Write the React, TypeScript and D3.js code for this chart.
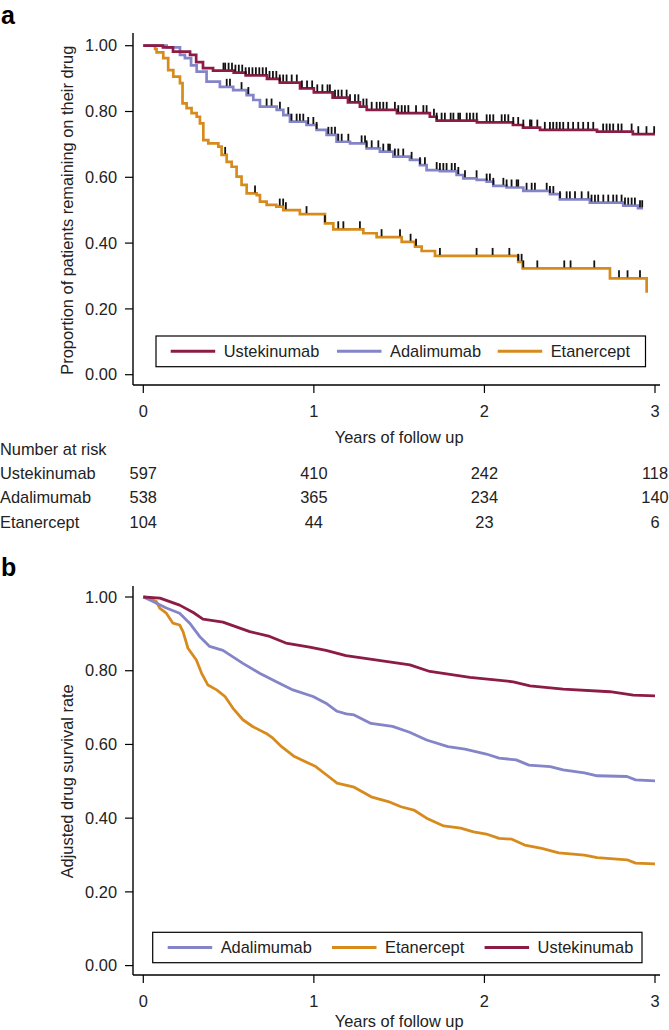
import React from "react";
import * as d3 from "d3";

// ---------- data ----------
const yearTicks = [0, 1, 2, 3];
const propTicks = [0, 0.2, 0.4, 0.6, 0.8, 1.0];
const drugNames = ["Ustekinumab", "Adalimumab", "Etanercept"];
const riskUstekinumab = [597, 410, 242, 118];
const riskAdalimumab = [538, 365, 234, 140];
const riskEtanercept = [104, 44, 23, 6];

// panel a: Kaplan–Meier steps [years, proportion]
const kmUstekinumab: [number, number][] = [
  [0, 1.0], [0.115, 0.995], [0.174, 0.982], [0.274, 0.972], [0.31, 0.95], [0.35, 0.932],
  [0.409, 0.924], [0.53, 0.918], [0.6, 0.91], [0.725, 0.899], [0.8, 0.888], [0.919, 0.87],
  [1.0, 0.858], [1.11, 0.842], [1.2, 0.828], [1.27, 0.815], [1.31, 0.805], [1.487, 0.795],
  [1.68, 0.784], [1.72, 0.772], [1.956, 0.767], [2.167, 0.759], [2.226, 0.751], [2.326, 0.744],
  [2.66, 0.739], [2.87, 0.731],
];
const kmAdalimumab: [number, number][] = [
  [0, 1.0], [0.137, 0.995], [0.215, 0.972], [0.244, 0.962], [0.28, 0.94], [0.313, 0.921],
  [0.371, 0.891], [0.449, 0.875], [0.527, 0.865], [0.606, 0.85], [0.645, 0.835], [0.684, 0.815],
  [0.782, 0.805], [0.821, 0.789], [0.86, 0.769], [0.957, 0.759], [1.016, 0.744], [1.075, 0.729],
  [1.133, 0.708], [1.212, 0.703], [1.309, 0.688], [1.387, 0.678], [1.466, 0.663], [1.563, 0.653],
  [1.622, 0.637], [1.661, 0.622], [1.739, 0.619], [1.837, 0.607], [1.876, 0.597], [1.955, 0.592],
  [2.013, 0.587], [2.052, 0.574], [2.13, 0.569], [2.228, 0.559], [2.384, 0.549], [2.442, 0.533],
  [2.618, 0.523], [2.814, 0.514], [2.9, 0.506],
];
const kmEtanercept: [number, number][] = [
  [0, 1.0], [0.069, 0.99], [0.078, 0.98], [0.117, 0.962], [0.146, 0.926], [0.176, 0.906],
  [0.215, 0.886], [0.23, 0.825], [0.254, 0.81], [0.283, 0.795], [0.313, 0.784], [0.332, 0.764],
  [0.352, 0.713], [0.381, 0.703], [0.44, 0.693], [0.459, 0.668], [0.489, 0.647], [0.518, 0.632],
  [0.547, 0.602], [0.576, 0.577], [0.606, 0.551], [0.665, 0.546], [0.684, 0.526], [0.723, 0.516],
  [0.78, 0.511], [0.821, 0.5], [0.918, 0.488], [1.065, 0.46], [1.114, 0.442], [1.29, 0.43],
  [1.368, 0.418], [1.515, 0.404], [1.593, 0.389], [1.632, 0.376], [1.71, 0.361], [2.198, 0.343],
  [2.224, 0.323], [2.736, 0.293], [2.951, 0.249],
];
const kmEndUstekinumab = 3.0;
const kmEndAdalimumab = 2.93;
const kmEndEtanercept = 2.951;

// censoring times (years)
const censorUstekinumab = [
  0.47, 0.48, 0.5, 0.52, 0.54, 0.56, 0.58, 0.6, 0.62, 0.64, 0.66, 0.68, 0.7, 0.72, 0.74, 0.76,
  0.78, 0.8, 0.82, 0.84, 0.87, 0.9, 0.93, 0.96, 0.99, 1.02, 1.05, 1.08, 1.094, 1.124, 1.143,
  1.163, 1.192, 1.212, 1.241, 1.261, 1.29, 1.309, 1.339, 1.368, 1.387, 1.407, 1.427, 1.475,
  1.495, 1.515, 1.534, 1.554, 1.599, 1.642, 1.661, 1.704, 1.72, 1.749, 1.768, 1.802, 1.818,
  1.847, 1.857, 1.896, 1.915, 1.935, 1.955, 2.013, 2.032, 2.052, 2.101, 2.12, 2.14, 2.169,
  2.198, 2.228, 2.267, 2.276, 2.31, 2.354, 2.384, 2.403, 2.423, 2.442, 2.462, 2.491, 2.52,
  2.55, 2.579, 2.608, 2.638, 2.696, 2.716, 2.735, 2.755, 2.784, 2.804, 2.863, 2.902, 2.95, 2.995,
];
const censorAdalimumab = [
  0.489, 0.508, 0.576, 0.616, 0.723, 0.752, 0.801, 0.85, 0.869, 0.899, 0.918, 0.938, 0.967,
  0.997, 1.016, 1.085, 1.104, 1.124, 1.143, 1.163, 1.202, 1.28, 1.3, 1.309, 1.339, 1.378,
  1.407, 1.436, 1.446, 1.475, 1.495, 1.524, 1.573, 1.622, 1.651, 1.72, 1.739, 1.759, 1.778,
  1.808, 1.827, 1.847, 1.886, 1.954, 2.013, 2.032, 2.052, 2.111, 2.13, 2.159, 2.189, 2.198,
  2.247, 2.277, 2.296, 2.365, 2.384, 2.404, 2.443, 2.482, 2.501, 2.531, 2.57, 2.609, 2.628,
  2.648, 2.667, 2.697, 2.726, 2.755, 2.775, 2.804, 2.824, 2.843, 2.863, 2.882, 2.912, 2.925,
];
const censorEtanercept = [
  0.48, 0.655, 0.8, 0.82, 0.836, 0.957, 1.065, 1.143, 1.173, 1.27, 1.397, 1.505, 1.567, 1.599,
  1.739, 1.954, 2.048, 2.146, 2.198, 2.218, 2.228, 2.31, 2.468, 2.505, 2.644, 2.789, 2.839, 2.912,
];

// panel b: adjusted survival [years, rate]
const adjAdalimumab: [number, number][] = [
  [0, 1.0], [0.057, 0.988], [0.135, 0.97], [0.213, 0.956], [0.272, 0.929], [0.33, 0.893],
  [0.389, 0.866], [0.467, 0.855], [0.584, 0.82], [0.682, 0.793], [0.78, 0.77], [0.877, 0.748],
  [0.995, 0.73], [1.071, 0.712], [1.136, 0.69], [1.19, 0.683], [1.236, 0.68], [1.335, 0.657],
  [1.461, 0.649], [1.561, 0.633], [1.661, 0.612], [1.786, 0.594], [1.886, 0.587], [2.011, 0.574],
  [2.086, 0.563], [2.186, 0.558], [2.261, 0.544], [2.386, 0.54], [2.461, 0.531], [2.586, 0.523],
  [2.661, 0.515], [2.836, 0.513], [2.886, 0.504], [3.0, 0.501],
];
const adjEtanercept: [number, number][] = [
  [0, 1.0], [0.018, 0.999], [0.076, 0.988], [0.096, 0.97], [0.135, 0.956], [0.174, 0.929],
  [0.213, 0.924], [0.233, 0.906], [0.262, 0.861], [0.311, 0.829], [0.342, 0.793], [0.379, 0.761],
  [0.43, 0.748], [0.479, 0.73], [0.526, 0.698], [0.584, 0.667], [0.643, 0.648], [0.721, 0.63],
  [0.76, 0.617], [0.811, 0.594], [0.886, 0.567], [1.011, 0.54], [1.086, 0.513], [1.136, 0.495],
  [1.236, 0.484], [1.336, 0.458], [1.436, 0.445], [1.511, 0.431], [1.586, 0.422], [1.661, 0.4],
  [1.761, 0.379], [1.861, 0.373], [1.936, 0.363], [2.011, 0.357], [2.086, 0.345], [2.161, 0.343],
  [2.236, 0.327], [2.336, 0.318], [2.436, 0.306], [2.586, 0.3], [2.661, 0.293], [2.836, 0.287],
  [2.886, 0.278], [3.0, 0.276],
];
const adjUstekinumab: [number, number][] = [
  [0, 1.0], [0.098, 0.997], [0.213, 0.978], [0.293, 0.958], [0.35, 0.94], [0.467, 0.932],
  [0.624, 0.906], [0.741, 0.893], [0.836, 0.875], [0.975, 0.864], [1.071, 0.855], [1.188, 0.841],
  [1.29, 0.834], [1.563, 0.816], [1.68, 0.798], [1.915, 0.782], [2.169, 0.77], [2.267, 0.759],
  [2.462, 0.75], [2.736, 0.743], [2.873, 0.734], [3.0, 0.732],
];

// ---------- styles ----------
const COL_UST = "#8c1c45";
const COL_ADA = "#8484c8";
const COL_ETA = "#d78b1d";
const FONT = "'Liberation Sans', Arial, Helvetica, sans-serif";
const FS = 16.4;

const W = 669;
const H = 1030;
const axisX0 = 133;
const axisX1 = 660;

const x = d3.scaleLinear().domain([0, 3]).range([143.3, 655]);
const yA = d3.scaleLinear().domain([0, 1]).range([374.7, 45.7]);
const yB = d3.scaleLinear().domain([0, 1]).range([965.6, 597]);

function stepValue(data: [number, number][], t: number) {
  let v = data[0][1];
  for (const [tt, s] of data) {
    if (tt <= t + 1e-9) v = s;
    else break;
  }
  return v;
}

function kmPath(data: [number, number][], end: number) {
  const pts: [number, number][] = [...data];
  const last = pts[pts.length - 1];
  if (last[0] < end) pts.push([end, last[1]]);
  return d3
    .line<[number, number]>()
    .x((d) => x(d[0]))
    .y((d) => yA(d[1]))
    .curve(d3.curveStepAfter)(pts) as string;
}

function adjPath(data: [number, number][]) {
  return d3
    .line<[number, number]>()
    .x((d) => x(d[0]))
    .y((d) => yB(d[1]))
    .curve(d3.curveLinear)(data) as string;
}

function Axes({ y, axisY, yTop, label, labelY, xLabelY }: any) {
  return (
    <g>
      <line x1={axisX0} x2={axisX0} y1={yTop} y2={axisY} stroke="#000" strokeWidth={1.4} />
      <line x1={axisX0} x2={axisX1} y1={axisY} y2={axisY} stroke="#000" strokeWidth={1.4} />
      {propTicks.map((t) => (
        <g key={t}>
          <line x1={axisX0 - 8} x2={axisX0} y1={y(t)} y2={y(t)} stroke="#000" strokeWidth={1.2} />
          <text
            x={117}
            y={y(t)}
            dy="0.35em"
            textAnchor="end"
            fontSize={FS}
            fontFamily={FONT}
            fill="#222"
          >
            {t.toFixed(2)}
          </text>
        </g>
      ))}
      {yearTicks.map((t) => (
        <g key={t}>
          <line x1={x(t)} x2={x(t)} y1={axisY} y2={axisY + 8} stroke="#000" strokeWidth={1.2} />
          <text
            x={x(t)}
            y={axisY + 26}
            dy="0.35em"
            textAnchor="middle"
            fontSize={FS}
            fontFamily={FONT}
            fill="#222"
          >
            {t}
          </text>
        </g>
      ))}
      <text
        x={(x(0) + x(3)) / 2}
        y={xLabelY}
        dy="0.35em"
        textAnchor="middle"
        fontSize={FS}
        fontFamily={FONT}
        fill="#222"
      >
        Years of follow up
      </text>
      <text
        transform={`translate(67,${labelY}) rotate(-90)`}
        dy="0.35em"
        textAnchor="middle"
        fontSize={FS}
        fontFamily={FONT}
        fill="#222"
      >
        {label}
      </text>
    </g>
  );
}

function Legend({ x0, x1, top, bottom, items }: any) {
  const cy = (top + bottom) / 2;
  return (
    <g>
      <rect x={x0} y={top} width={x1 - x0} height={bottom - top} fill="#fff" stroke="#000" strokeWidth={1.2} />
      {items.map((it: any) => (
        <g key={it.name}>
          <line x1={it.lx} x2={it.lx + 44.5} y1={cy} y2={cy} stroke={it.color} strokeWidth={3} />
          <text x={it.lx + 53} y={cy} dy="0.35em" fontSize={FS} fontFamily={FONT} fill="#222">
            {it.name}
          </text>
        </g>
      ))}
    </g>
  );
}

function Censors({ times, data, color }: any) {
  return (
    <g>
      {times.map((t: number, i: number) => {
        const yy = yA(stepValue(data, t));
        return (
          <line key={i} x1={x(t)} x2={x(t)} y1={yy - 1} y2={yy - 8} stroke={color} strokeWidth={1.8} />
        );
      })}
    </g>
  );
}

export default function App() {
  const riskRows = [riskUstekinumab, riskAdalimumab, riskEtanercept];
  const riskY = [473, 497.5, 522];
  return (
    <svg
      width={W}
      height={H}
      viewBox={`0 0 ${W} ${H}`}
      style={{ position: "absolute", left: 0, top: 0, background: "#fff" }}
    >
      <rect x={0} y={0} width={W} height={H} fill="#fff" />
      {/* panel a */}
      <text x={1} y={23.5} fontSize={25} fontWeight="bold" fontFamily={FONT} fill="#000">
        a
      </text>
      <Axes
        y={yA}
        axisY={385}
        yTop={33}
        label="Proportion of patients remaining on their drug"
        labelY={(yA(0) + yA(1)) / 2}
        xLabelY={437}
      />
      <path d={kmPath(kmEtanercept, kmEndEtanercept)} fill="none" stroke={COL_ETA} strokeWidth={2.7} />
      <path d={kmPath(kmAdalimumab, kmEndAdalimumab)} fill="none" stroke={COL_ADA} strokeWidth={2.7} />
      <path d={kmPath(kmUstekinumab, kmEndUstekinumab)} fill="none" stroke={COL_UST} strokeWidth={2.7} />
      <Censors times={censorUstekinumab} data={kmUstekinumab} color="#111" />
      <Censors times={censorAdalimumab} data={kmAdalimumab} color="#111" />
      <Censors times={censorEtanercept} data={kmEtanercept} color="#111" />
      <Legend
        x0={156}
        x1={645.5}
        top={336}
        bottom={366.7}
        items={[
          { name: "Ustekinumab", color: COL_UST, lx: 170.7 },
          { name: "Adalimumab", color: COL_ADA, lx: 337 },
          { name: "Etanercept", color: COL_ETA, lx: 497.7 },
        ]}
      />
      {/* number at risk */}
      <text x={0} y={449} dy="0.35em" fontSize={FS} fontFamily={FONT} fill="#222">
        Number at risk
      </text>
      {riskRows.map((row, i) => (
        <g key={i}>
          <text x={0} y={riskY[i]} dy="0.35em" fontSize={FS} fontFamily={FONT} fill="#222">
            {drugNames[i]}
          </text>
          {row.map((v, j) => (
            <text
              key={j}
              x={x(yearTicks[j])}
              y={riskY[i]}
              dy="0.35em"
              textAnchor="middle"
              fontSize={FS}
              fontFamily={FONT}
              fill="#222"
            >
              {v}
            </text>
          ))}
        </g>
      ))}
      {/* panel b */}
      <text x={1} y={576} fontSize={25} fontWeight="bold" fontFamily={FONT} fill="#000">
        b
      </text>
      <Axes
        y={yB}
        axisY={975}
        yTop={586}
        label="Adjusted drug survival rate"
        labelY={(yB(0) + yB(1)) / 2}
        xLabelY={1021}
      />
      <path d={adjPath(adjEtanercept)} fill="none" stroke={COL_ETA} strokeWidth={2.8} strokeLinejoin="round" />
      <path d={adjPath(adjAdalimumab)} fill="none" stroke={COL_ADA} strokeWidth={2.8} strokeLinejoin="round" />
      <path d={adjPath(adjUstekinumab)} fill="none" stroke={COL_UST} strokeWidth={2.8} strokeLinejoin="round" />
      <Legend
        x0={152.7}
        x1={642}
        top={932.3}
        bottom={962.7}
        items={[
          { name: "Adalimumab", color: COL_ADA, lx: 167.7 },
          { name: "Etanercept", color: COL_ETA, lx: 332 },
          { name: "Ustekinumab", color: COL_UST, lx: 484.6 },
        ]}
      />
    </svg>
  );
}
